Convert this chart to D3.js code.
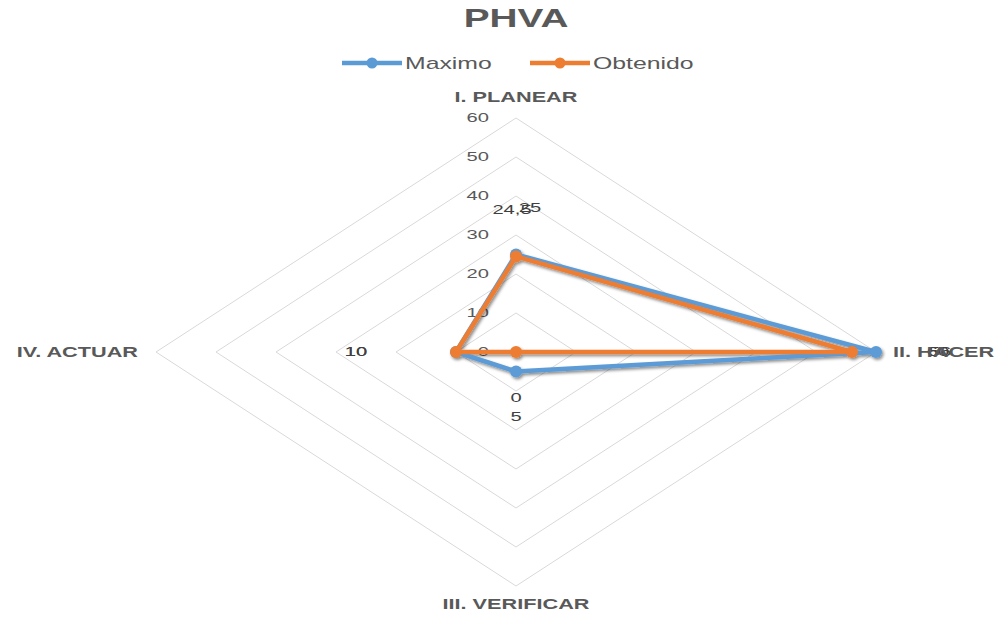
<!DOCTYPE html>
<html><head><meta charset="utf-8">
<script src="https://cdn.jsdelivr.net/npm/d3@7"></script>
<style>body{margin:0;background:#fff}svg{display:block}text{font-family:"Liberation Sans",Arial,sans-serif}</style>
</head><body>
<svg id="c" width="1000" height="619"></svg>
<script>
const categories = ["I. PLANEAR", "II. HACER", "III. VERIFICAR", "IV. ACTUAR"];
const maximo = [25, 60, 5, 10];
const obtenido = [24.5, 56, 0, 10];
const seriesNames = ["Maximo", "Obtenido"];
const ticks = [0, 10, 20, 30, 40, 50, 60];

const W = 1000, H = 619, cx = 516, cy = 352;
const SX = 1.55; // horizontal stretch of the original picture
const rX = d3.scaleLinear().domain([0, 60]).range([0, 360]);
const rY = d3.scaleLinear().domain([0, 60]).range([0, 234]);
const colors = ["#5B9BD5", "#ED7D31"];
const svg = d3.select("#c");

const defs = svg.append("defs");
const f = defs.append("filter").attr("id", "sh").attr("x", "-10%").attr("y", "-10%").attr("width", "130%").attr("height", "130%");
f.append("feDropShadow").attr("dx", 1.5).attr("dy", 2).attr("stdDeviation", 1.5).attr("flood-color", "#000").attr("flood-opacity", 0.45);

const ang = categories.map((c, i) => -Math.PI / 2 + i * 2 * Math.PI / categories.length);
function pt(v, i) {
  return [cx + rX(v) * Math.cos(ang[i]), cy + rY(v) * Math.sin(ang[i])];
}
function stretchedText(g, x, y, txt, o) {
  return g.append("text")
    .attr("transform", `translate(${x},${y}) scale(${o.sx || SX},1)`)
    .attr("text-anchor", o.anchor || "middle")
    .attr("dominant-baseline", "central")
    .attr("font-size", o.size)
    .attr("font-weight", o.weight || "normal")
    .attr("fill", o.fill || "#595959")
    .text(txt);
}

// grid rings
const grid = svg.append("g");
ticks.filter(t => t > 0).forEach(t => {
  grid.append("path")
    .attr("d", d3.line()(categories.map((c, i) => pt(t, i))) + "Z")
    .attr("fill", "none").attr("stroke", "#D9D9D9").attr("stroke-width", 1);
});

// tick labels
const tl = svg.append("g");
ticks.forEach(t => {
  stretchedText(tl, cx - 27, cy - rY(t), String(t), {size: 13, anchor: "end"});
});

// series
const all = [maximo, obtenido];
const sg = svg.append("g").attr("filter", "url(#sh)");
all.forEach((s, k) => {
  const g = sg.append("g");
  g.append("path")
    .attr("d", d3.line()(s.map((v, i) => pt(v, i))) + "Z")
    .attr("fill", "none").attr("stroke", colors[k]).attr("stroke-width", 4.5)
    .attr("stroke-linejoin", "round");
  g.selectAll("circle").data(s).join("circle")
    .attr("cx", (v, i) => pt(v, i)[0]).attr("cy", (v, i) => pt(v, i)[1])
    .attr("r", 6).attr("fill", colors[k]);
});

// data labels (offsets in px from each point)
const fmt = v => String(v).replace(".", ",");
const labOff = [
  [[14, -47], [-4, -47]],
  [[62, 0], [88, 0]],
  [[0, 45], [0, 46]],
  [[-100, 0], [-100, 0]]
];
const dl = svg.append("g");
all.forEach((s, k) => {
  s.forEach((v, i) => {
    const p = pt(v, i);
    stretchedText(dl, p[0] + labOff[i][k][0], p[1] + labOff[i][k][1], fmt(v), {size: 13, fill: "#404040"});
  });
});

// category labels
const cl = svg.append("g");
stretchedText(cl, cx, 97, categories[0], {size: 14, weight: "bold"});
stretchedText(cl, 893, cy, categories[1], {size: 14, weight: "bold", anchor: "start"});
stretchedText(cl, cx, 604, categories[2], {size: 14, weight: "bold"});
stretchedText(cl, 138, cy, categories[3], {size: 14, weight: "bold", anchor: "end"});

// title
stretchedText(svg, cx, 18, "PHVA", {size: 25, weight: "bold"});

// legend
const lg = svg.append("g");
const legX = [342, 530];
seriesNames.forEach((n, k) => {
  const x0 = legX[k], y0 = 63;
  lg.append("line").attr("x1", x0).attr("x2", x0 + 60).attr("y1", y0).attr("y2", y0)
    .attr("stroke", colors[k]).attr("stroke-width", 4.5);
  lg.append("circle").attr("cx", x0 + 30).attr("cy", y0).attr("r", 5.5).attr("fill", colors[k]);
  stretchedText(lg, x0 + 63, y0, n, {size: 16, anchor: "start"});
});
</script>
</body></html>
